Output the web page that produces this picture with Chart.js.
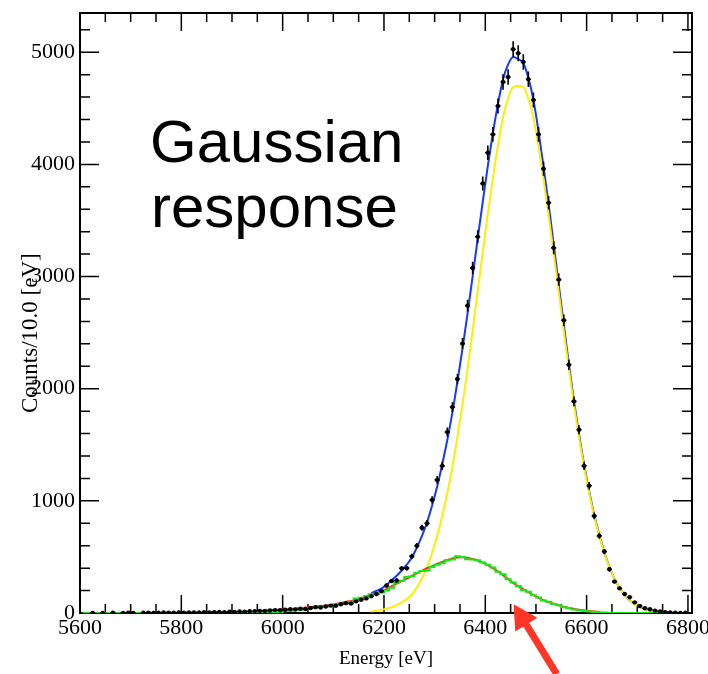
<!DOCTYPE html>
<html>
<head>
<meta charset="utf-8">
<script src="https://cdn.jsdelivr.net/npm/chart.js@4/dist/chart.umd.min.js"></script>
<style>
  html, body { margin: 0; padding: 0; background: #fff; }
  canvas { display: block; }
</style>
</head>
<body>
<canvas id="spectrum" width="708" height="674"></canvas>
<script>
// bin centres of the 10 eV histogram
const energy = [
  5605, 5615, 5625, 5635, 5645, 5655, 5665, 5675, 5685, 5695,
  5705, 5715, 5725, 5735, 5745, 5755, 5765, 5775, 5785, 5795,
  5805, 5815, 5825, 5835, 5845, 5855, 5865, 5875, 5885, 5895,
  5905, 5915, 5925, 5935, 5945, 5955, 5965, 5975, 5985, 5995,
  6005, 6015, 6025, 6035, 6045, 6055, 6065, 6075, 6085, 6095,
  6105, 6115, 6125, 6135, 6145, 6155, 6165, 6175, 6185, 6195,
  6205, 6215, 6225, 6235, 6245, 6255, 6265, 6275, 6285, 6295,
  6305, 6315, 6325, 6335, 6345, 6355, 6365, 6375, 6385, 6395,
  6405, 6415, 6425, 6435, 6445, 6455, 6465, 6475, 6485, 6495,
  6505, 6515, 6525, 6535, 6545, 6555, 6565, 6575, 6585, 6595,
  6605, 6615, 6625, 6635, 6645, 6655, 6665, 6675, 6685, 6695,
  6705, 6715, 6725, 6735, 6745, 6755, 6765, 6775, 6785, 6795
];
const BIN_WIDTH = 10;

// measured counts per bin (black points, error = sqrt(N))
const counts = [
  0, 0, 1, 0, 1, 0, 2, 0, 1, 2,
  1, 0, 2, 3, 1, 2, 4, 3, 2, 5,
  3, 4, 6, 5, 7, 6, 8, 9, 7, 11,
  10, 13, 12, 16, 15, 19, 18, 22, 26, 24,
  29, 33, 31, 38, 36, 45, 52, 49, 58, 66,
  64, 78, 88, 84, 104, 118, 130, 150, 170, 195,
  245, 285, 290, 398, 400, 505, 600, 760, 800, 1009,
  1187, 1312, 1613, 1836, 2086, 2402, 2741, 3077, 3355, 3830,
  4104, 4268, 4521, 4735, 4780, 5027, 4991, 4913, 4759, 4574,
  4268, 3961, 3658, 3256, 2973, 2610, 2214, 1887, 1634, 1312,
  1134, 866, 688, 548, 390, 280, 220, 170, 140, 95,
  62, 42, 33, 21, 14, 8, 5, 3, 1, 2
];

// total fit (blue)
const totalFit = [
  null, null, null, null, null, null, null, null, null, null,
  null, null, null, null, null, null, null, null, null, null,
  null, null, null, null, null, null, null, null, null, null,
  null, null, null, null, null, null, null, null, null, null,
  null, null, null, null, null, null, null, null, null, null,
  null, null, null, null, null, null, null, 178, 197, 218,
  251, 292, 332, 379, 431, 495, 584, 687, 809, 958,
  1127, 1326, 1543, 1786, 2065, 2357, 2671, 3001, 3338, 3669,
  3987, 4280, 4540, 4758, 4892, 4958, 4940, 4902, 4773, 4575,
  4296, 3978, 3643, 3285, 2926, 2567, 2220, 1891, 1592, 1324,
  1085, 876, 697, 542, 412, 306, 225, 162, 114, 79,
  53, 35, 23, 14, 9, 5, 3, null, null, null
];

// Gaussian main line (yellow)
const gaussLine = [
  null, null, null, null, null, null, null, null, null, null,
  null, null, null, null, null, null, null, null, null, null,
  null, null, null, null, null, null, null, null, null, null,
  null, null, null, null, null, null, null, null, null, null,
  null, null, null, null, null, null, null, null, null, null,
  null, null, null, null, null, null, null, 14, 20, 28,
  38, 52, 70, 94, 124, 165, 230, 310, 410, 540,
  690, 870, 1070, 1300, 1570, 1860, 2180, 2520, 2870, 3220,
  3560, 3880, 4170, 4420, 4590, 4690, 4700, 4690, 4588, 4415,
  4160, 3864, 3546, 3203, 2858, 2512, 2175, 1855, 1564, 1302,
  1068, 863, 687, 535, 408, 306, 225, 162, 114, 79,
  53, 35, 23, 14, 9, 5, 3, null, null, null
];

// low-energy response component (red)
const tailFit = [
  null, null, null, null, null, null, null, null, null, null,
  null, null, null, null, null, null, null, null, null, null,
  null, null, null, null, null, null, null, null, null, null,
  null, null, null, null, null, 19, 21, 24, 27, 30,
  33, 36, 40, 44, 48, 53, 58, 63, 68, 72,
  80, 90, 99, 107, 115, 132, 150, 164, 177, 190,
  213, 240, 262, 285, 307, 330, 354, 377, 399, 418,
  437, 456, 473, 486, 495, 497, 491, 481, 468, 449,
  427, 400, 370, 338, 302, 268, 240, 212, 185, 160,
  136, 114, 97, 82, 68, 55, 45, 36, 28, 22,
  17, 13, 10, null, null, null, null, null, null, null,
  null, null, null, null, null, null, null, null, null, null
];

// simulated response histogram (green)
const tailHist = [
  0, 0, 0, 0, 0, 0, 0, 0, 0, 0,
  0, 0, 0, 0, 0, 0, 1, 0, 2, 1,
  1, 2, 1, 2, 3, 2, 4, 3, 5, 4,
  6, 5, 7, 6, 9, 5, 6, 6, 7, 7,
  18, 20, 27, 28, 42, 42, 48, 57, 57, 60,
  77, 78, 95, 95, 130, 137, 150, 168, 170, 182,
  200, 225, 272, 288, 320, 325, 360, 375, 380, 410,
  430, 444, 470, 478, 505, 500, 480, 478, 470, 450,
  430, 405, 368, 345, 300, 272, 240, 205, 190, 158,
  138, 112, 100, 80, 70, 52, 44, 32, 25, 20,
  14, 10, 6, 4, 2, 1, 0, 0, 0, 0,
  0, 0, 0, 0, 0, 0, 0, 0, 0, 0
];

const xTickLabels = [5600, 5800, 6000, 6200, 6400, 6600, 6800];
const yTickLabels = [0, 1000, 2000, 3000, 4000, 5000];

const X_MIN = 5600, X_MAX = 6808, X_MINOR = 50;
const Y_MIN = 0, Y_MAX = 5350, Y_MINOR = 200;

// red arrow, in data coordinates (tip, tail)
const arrowTip = [6456, 78];
const arrowTail = [6541, -545];

const serif = 'Liberation Serif, Times New Roman, serif';

const points = (arr) => energy.map((e, i) => ({ x: e, y: arr[i] }));

const frameTicks = {
    id: 'frameTicks',
    beforeDatasetsDraw(chart) {
        const { ctx, chartArea: a, scales: { x, y } } = chart;
        ctx.save();
        ctx.strokeStyle = '#000';
        ctx.lineWidth = 1.5;
        ctx.beginPath();
        for (let v = X_MIN; v <= X_MAX; v += X_MINOR) {
            const len = xTickLabels.includes(v) ? 18 : 9;
            const px = x.getPixelForValue(v);
            ctx.moveTo(px, a.bottom);
            ctx.lineTo(px, a.bottom - len);
            ctx.moveTo(px, a.top);
            ctx.lineTo(px, a.top + len);
        }
        for (let v = Y_MIN; v <= Y_MAX; v += Y_MINOR) {
            const len = yTickLabels.includes(v) ? 19 : 10;
            const py = y.getPixelForValue(v);
            ctx.moveTo(a.left, py);
            ctx.lineTo(a.left + len, py);
            ctx.moveTo(a.right, py);
            ctx.lineTo(a.right - len, py);
        }
        ctx.stroke();
        ctx.lineWidth = 2;
        ctx.strokeRect(a.left, a.top, a.right - a.left, a.bottom - a.top);
        ctx.restore();
    }
};

const errorBars = {
    id: 'errorBars',
    afterDatasetsDraw(chart) {
        const { ctx, chartArea: a, scales: { x, y } } = chart;
        ctx.save();
        ctx.beginPath();
        ctx.rect(a.left, a.top, a.right - a.left, a.bottom - a.top);
        ctx.clip();
        ctx.strokeStyle = '#000';
        ctx.lineWidth = 1.6;
        ctx.beginPath();
        energy.forEach((e, i) => {
            const n = counts[i];
            if (!n) return;
            const s = Math.sqrt(n);
            const px = x.getPixelForValue(e);
            const py = y.getPixelForValue(n);
            ctx.moveTo(x.getPixelForValue(e - BIN_WIDTH / 2), py);
            ctx.lineTo(x.getPixelForValue(e + BIN_WIDTH / 2), py);
            ctx.moveTo(px, y.getPixelForValue(n - s));
            ctx.lineTo(px, y.getPixelForValue(n + s));
        });
        ctx.stroke();
        ctx.restore();
    }
};

const overlay = {
    id: 'overlay',
    afterDraw(chart) {
        const { ctx, scales: { x, y } } = chart;
        ctx.save();
        // slide text
        ctx.fillStyle = '#000';
        ctx.font = '60px "Liberation Sans", Arial, sans-serif';
        ctx.textBaseline = 'alphabetic';
        ctx.fillText('Gaussian', 150, 162);
        ctx.fillText('response', 151, 227);

        // red arrow
        const tx = x.getPixelForValue(arrowTip[0]), ty = y.getPixelForValue(arrowTip[1]);
        const sx = x.getPixelForValue(arrowTail[0]), sy = y.getPixelForValue(arrowTail[1]);
        const ang = Math.atan2(ty - sy, tx - sx);
        const headLen = 24, headHalf = 13, shaft = 7;
        const bx = tx - headLen * Math.cos(ang), by = ty - headLen * Math.sin(ang);
        const nx = -Math.sin(ang), ny = Math.cos(ang);
        ctx.fillStyle = '#ff3526';
        ctx.beginPath();
        ctx.moveTo(sx + nx * shaft / 2, sy + ny * shaft / 2);
        ctx.lineTo(bx + nx * shaft / 2, by + ny * shaft / 2);
        ctx.lineTo(bx + nx * headHalf, by + ny * headHalf);
        ctx.lineTo(tx, ty);
        ctx.lineTo(bx - nx * headHalf, by - ny * headHalf);
        ctx.lineTo(bx - nx * shaft / 2, by - ny * shaft / 2);
        ctx.lineTo(sx - nx * shaft / 2, sy - ny * shaft / 2);
        ctx.closePath();
        ctx.fill();
        ctx.restore();
    }
};

new Chart(document.getElementById('spectrum').getContext('2d'), {
    type: 'line',
    data: {
        datasets: [{
            label: 'Data',
            data: points(counts),
            showLine: false,
            pointRadius: (c) => (c.raw && c.raw.y > 0 ? 2.2 : 0),
            pointBackgroundColor: '#000',
            pointBorderWidth: 0,
            order: 0
        },
        {
            label: 'Response histogram',
            data: points(tailHist),
            borderColor: '#18e818',
            borderWidth: 2,
            pointRadius: 0,
            stepped: 'middle',
            fill: false,
            order: 1
        },
        {
            label: 'Tail component',
            data: points(tailFit),
            borderColor: '#ff2a1a',
            borderWidth: 2,
            pointRadius: 0,
            cubicInterpolationMode: 'monotone',
            fill: false,
            order: 2
        },
        {
            label: 'Gaussian',
            data: points(gaussLine),
            borderColor: '#ffee00',
            borderWidth: 2,
            pointRadius: 0,
            cubicInterpolationMode: 'monotone',
            fill: false,
            order: 3
        },
        {
            label: 'Total fit',
            data: points(totalFit),
            borderColor: '#1638ff',
            borderWidth: 2,
            pointRadius: 0,
            cubicInterpolationMode: 'monotone',
            fill: false,
            order: 4
        }]
    },
    options: {
        responsive: false,
        animation: false,
        events: [],
        layout: { padding: { top: 13, right: 16, left: 0, bottom: 0 } },
        plugins: {
            legend: { display: false },
            tooltip: { enabled: false }
        },
        scales: {
            x: {
                type: 'linear',
                min: X_MIN,
                max: X_MAX,
                grid: { display: false, drawTicks: false },
                border: { display: false },
                afterBuildTicks(s) {
                    s.ticks = xTickLabels.map((v) => ({ value: v }));
                },
                ticks: {
                    autoSkip: false,
                    maxRotation: 0,
                    padding: 2,
                    color: '#000',
                    font: { family: serif, size: 22 },
                    callback: (v) => String(v)
                },
                title: {
                    display: true,
                    text: 'Energy [eV]',
                    color: '#000',
                    font: { family: serif, size: 19 },
                    padding: { top: 0, bottom: 4 }
                },
                afterFit(s) {
                    s.height = 61;
                    s.paddingLeft = 0;
                    s.paddingRight = 0;
                }
            },
            y: {
                min: Y_MIN,
                max: Y_MAX,
                grid: { display: false, drawTicks: false },
                border: { display: false },
                afterBuildTicks(s) {
                    s.ticks = yTickLabels.map((v) => ({ value: v }));
                },
                ticks: {
                    autoSkip: false,
                    padding: 5,
                    color: '#000',
                    font: { family: serif, size: 22 },
                    callback: (v) => String(v)
                },
                title: {
                    display: true,
                    text: 'Counts/10.0 [eV]       ',
                    color: '#000',
                    font: { family: serif, size: 23 },
                    padding: { top: 17, bottom: 0 }
                },
                afterFit(s) {
                    s.width = 80;
                    s.paddingTop = 0;
                    s.paddingBottom = 0;
                }
            }
        }
    },
    plugins: [frameTicks, errorBars, overlay]
});
</script>
</body>
</html>
